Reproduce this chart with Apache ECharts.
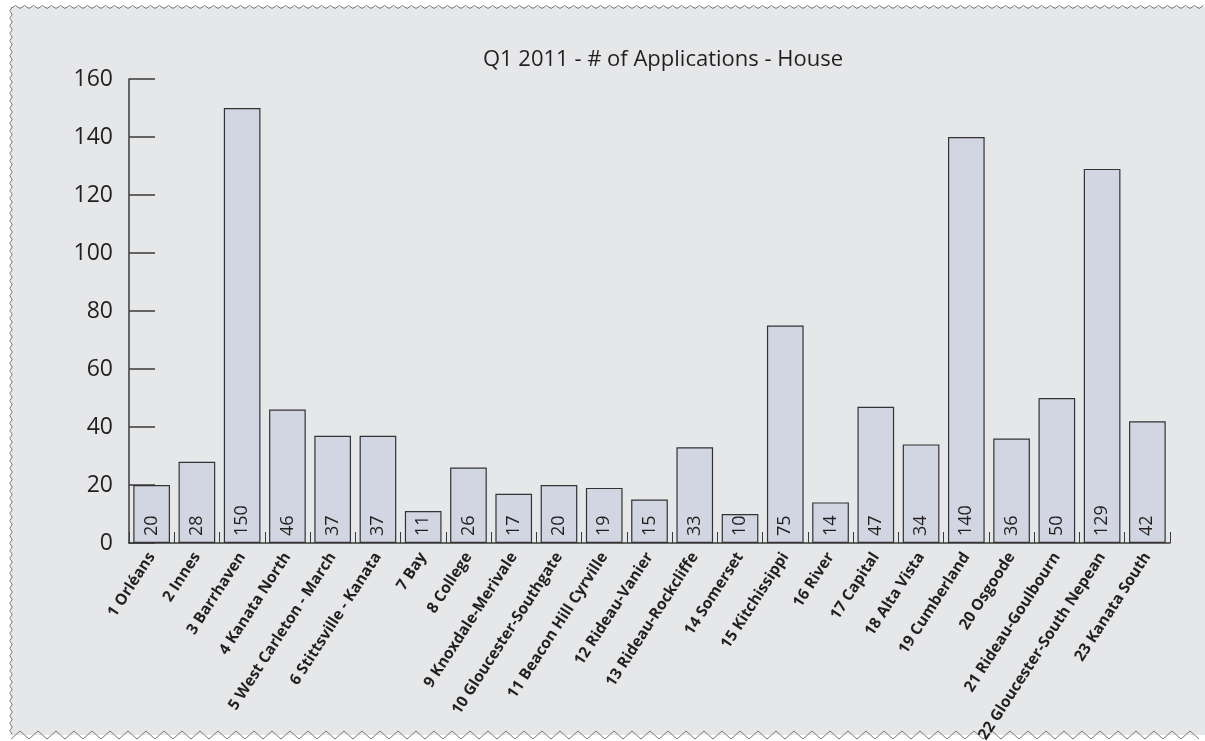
<!DOCTYPE html>
<html>
<head>
<meta charset="utf-8">
<script src="https://cdn.jsdelivr.net/npm/echarts@6/dist/echarts.min.js"></script>
<style>
  html, body { margin: 0; padding: 0; background: #ffffff; }
  #chart { width: 1205px; height: 741px; }
</style>
</head>
<body>
<div id="chart"></div>
<script>
// Ward names and number of house applications, Q1 2011
const wards = [
  '1 Orléans', '2 Innes', '3 Barrhaven', '4 Kanata North', '5 West Carleton - March',
  '6 Stittsville - Kanata', '7 Bay', '8 College', '9 Knoxdale-Merivale',
  '10 Gloucester-Southgate', '11 Beacon Hill Cyrville', '12 Rideau-Vanier',
  '13 Rideau-Rockcliffe', '14 Somerset', '15 Kitchissippi', '16 River', '17 Capital',
  '18 Alta Vista', '19 Cumberland', '20 Osgoode', '21 Rideau-Goulbourn',
  '22 Gloucester-South Nepean', '23 Kanata South'
];
const applications = [20, 28, 150, 46, 37, 37, 11, 26, 17, 20, 19, 15, 33, 10, 75, 14, 47, 34, 140, 36, 50, 129, 42];
const yTicks = { min: 0, max: 160, interval: 20 };
const chartTitle = 'Q1 2011 - # of Applications - House';

const W = 1205, H = 741;
const frame = { left: 11, top: 7, right: 1205, bottom: 735 };

// Decorative serrated frame edges
function zigzag(x0, y0, x1, y1, step, amp, horizontal) {
  const pts = [];
  let i = 0;
  if (horizontal) {
    for (let x = x0; x <= x1; x += step / 2, i++) pts.push([x, y0 + (i % 2 ? -amp : amp)]);
  } else {
    for (let y = y0; y <= y1; y += step / 2, i++) pts.push([x0 + (i % 2 ? -amp : amp), y]);
  }
  return pts;
}

const borderStyle = { stroke: '#7a7a7a', lineWidth: 1, fill: null };
const graphics = [
  { type: 'rect', z: -10, silent: true,
    shape: { x: frame.left, y: frame.top, width: frame.right - frame.left, height: frame.bottom - frame.top },
    style: { fill: '#e6e7e9' } },
  { type: 'polyline', silent: true, shape: { points: zigzag(frame.left, frame.top, frame.right, 0, 9, 1.5, true) }, style: borderStyle },
  { type: 'polyline', silent: true, shape: { points: zigzag(frame.left, frame.bottom, frame.right, 0, 18, 4, true) }, style: borderStyle },
  { type: 'polyline', silent: true, shape: { points: zigzag(frame.left, frame.top, 0, frame.bottom, 7.5, 1.2, false) }, style: borderStyle }
];

const chart = echarts.init(document.getElementById('chart'), null, { renderer: 'canvas', width: W, height: H });
const textColor = '#231f20';
const axisColor = '#3a3a3a';
const fontFamily = '"Open Sans", "Noto Sans", sans-serif';

chart.setOption({
  backgroundColor: '#ffffff',
  animation: false,
  title: {
    text: chartTitle,
    left: 658,
    textAlign: 'center',
    top: 44,
    textStyle: { fontFamily, fontSize: 22, fontWeight: 'normal', color: textColor }
  },
  graphic: graphics,
  grid: { left: 129, right: 35, top: 79, bottom: 198, containLabel: false, outerBoundsMode: 'none' },
  xAxis: {
    type: 'category',
    data: wards,
    boundaryGap: true,
    axisLine: { lineStyle: { color: axisColor, width: 1.5 } },
    axisTick: { show: true, inside: true, length: 11, alignWithLabel: false, lineStyle: { color: axisColor } },
    axisLabel: {
      interval: 0, rotate: 57, margin: 11,
      fontFamily, fontSize: 15.5, fontWeight: 'bold', color: textColor
    },
    splitLine: { show: false }
  },
  yAxis: {
    type: 'value',
    min: yTicks.min, max: yTicks.max, interval: yTicks.interval,
    axisLine: { show: true, lineStyle: { color: axisColor, width: 1.5 } },
    axisTick: { show: true, inside: true, length: 26, lineStyle: { color: axisColor, width: 1.5 } },
    axisLabel: { margin: 16, fontFamily, fontSize: 23, color: textColor },
    splitLine: { show: false }
  },
  series: [{
    type: 'bar',
    data: applications,
    barWidth: '81%',
    itemStyle: { color: '#d2d6e2', borderColor: '#333333', borderWidth: 1.2 },
    label: {
      show: true,
      position: 'insideBottom',
      rotate: 90,
      align: 'left',
      verticalAlign: 'middle',
      distance: 7,
      fontFamily, fontSize: 18, color: textColor
    }
  }]
});
</script>
</body>
</html>
